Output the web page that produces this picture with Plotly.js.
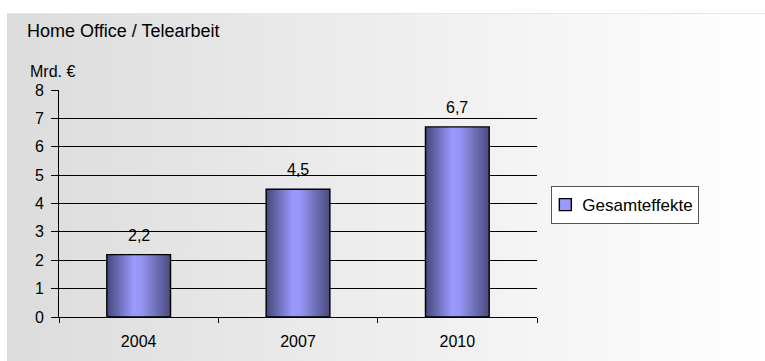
<!DOCTYPE html>
<html>
<head>
<meta charset="utf-8">
<script src="https://cdn.plot.ly/plotly-3.0.1.min.js"></script>
<style>
  html, body { margin: 0; padding: 0; background: #ffffff; }
  #wrap { position: relative; width: 765px; height: 361px; overflow: hidden; }
  #bg { position: absolute; left: 7px; top: 13px; width: 758px; height: 348px;
        background: linear-gradient(to right, #dcdcdc 0%, #ececec 45%, #ffffff 100%);
        border-top: 1px solid #e6e6e6; }
  #chart { position: absolute; left: 0; top: 0; width: 765px; height: 361px; }
</style>
</head>
<body>
<div id="wrap">
  <div id="bg"></div>
  <div id="chart"></div>
</div>
<script>
// ---- data ----
const years = ['2004', '2007', '2010'];
const gesamteffekte = [2.2, 4.5, 6.7];
const seriesName = 'Gesamteffekte';
const chartTitle = 'Home Office / Telearbeit';
const unitLabel = 'Mrd. €';
const yTicks = [0, 1, 2, 3, 4, 5, 6, 7, 8];

const FONT = 'Liberation Sans, Arial, sans-serif';

const trace = {
  type: 'bar',
  x: years,
  y: gesamteffekte,
  name: seriesName,
  marker: { color: '#9999ff', line: { color: '#000000', width: 1.4 } },
  hoverinfo: 'none',
  showlegend: true
};

const annotations = years.map((yr, i) => ({
  x: i, y: gesamteffekte[i], xref: 'x', yref: 'y',
  text: gesamteffekte[i].toFixed(1).replace('.', ','),
  showarrow: false, yanchor: 'bottom', yshift: 9,
  font: { family: FONT, size: 16, color: '#000000' }
}));

annotations.push({
  xref: 'paper', yref: 'paper', x: -0.065, y: 1.08,
  xanchor: 'left', yanchor: 'middle', showarrow: false,
  text: unitLabel, font: { family: FONT, size: 16, color: '#000000' }
});

const layout = {
  width: 765, height: 361,
  margin: { l: 59, r: 228, t: 90, b: 44, pad: 0 },
  paper_bgcolor: 'rgba(0,0,0,0)',
  plot_bgcolor: 'rgba(0,0,0,0)',
  title: {
    text: chartTitle, xref: 'container', yref: 'container',
    x: 27 / 765, y: 1 - 31 / 361, xanchor: 'left', yanchor: 'middle',
    font: { family: FONT, size: 18, color: '#000000' }
  },
  bargap: 0.6,
  xaxis: {
    type: 'category', range: [-0.5, 2.5],
    tickson: 'boundaries', ticks: 'outside', ticklen: 5, tickcolor: '#000000', tickwidth: 1,
    showline: true, linecolor: '#000000', linewidth: 1,
    showgrid: false, zeroline: false, tickangle: 0, ticklabelstandoff: 10,
    tickfont: { family: FONT, size: 16, color: '#000000' },
    fixedrange: true
  },
  yaxis: {
    range: [0, 8], tickvals: yTicks, ticktext: yTicks.map(String),
    ticks: 'outside', ticklen: 7, tickcolor: '#000000', tickwidth: 1,
    showline: true, linecolor: '#000000', linewidth: 1,
    showgrid: true, gridcolor: '#000000', gridwidth: 1,
    zeroline: false, ticklabelstandoff: 4,
    tickfont: { family: FONT, size: 16, color: '#000000' },
    fixedrange: true
  },
  legend: {
    x: 1.03, y: 0.493, xanchor: 'left', yanchor: 'middle',
    bgcolor: '#ffffff', bordercolor: '#555555', borderwidth: 1,
    font: { family: FONT, size: 17, color: '#000000' },
    itemwidth: 30, tracegroupgap: 0
  },
  annotations: annotations,
  showlegend: true
};

Plotly.newPlot('chart', [trace], layout, { staticPlot: true, displayModeBar: false }).then(gd => {
  // apply the cylinder-like horizontal gradient to the bars
  const svg = gd.querySelector('svg.main-svg');
  const ns = 'http://www.w3.org/2000/svg';
  let defs = svg.querySelector('defs');
  if (!defs) { defs = document.createElementNS(ns, 'defs'); svg.insertBefore(defs, svg.firstChild); }
  const grad = document.createElementNS(ns, 'linearGradient');
  grad.setAttribute('id', 'barGrad');
  grad.setAttribute('x1', '0'); grad.setAttribute('y1', '0');
  grad.setAttribute('x2', '1'); grad.setAttribute('y2', '0');
  [['0', '#46467a'], ['0.42', '#9a9aff'], ['0.55', '#9494f2'], ['1', '#4a4a7c']].forEach(([o, c]) => {
    const s = document.createElementNS(ns, 'stop');
    s.setAttribute('offset', o); s.setAttribute('stop-color', c);
    grad.appendChild(s);
  });
  defs.appendChild(grad);
  gd.querySelectorAll('.barlayer .point path').forEach(p => {
    p.style.fill = 'url(#barGrad)';
  });
  // tighten legend: swatch closer to the text, like the original
  const SHIFT = 10;
  gd.querySelectorAll('.legend .legendtext').forEach(t => {
    t.setAttribute('x', (parseFloat(t.getAttribute('x')) || 0) - SHIFT);
  });
  gd.querySelectorAll('.legend .legendpoints').forEach(p => {
    p.setAttribute('transform', 'translate(-7,0)');
  });
  const bg = gd.querySelector('.legend rect.bg');
  if (bg) bg.setAttribute('width', parseFloat(bg.getAttribute('width')) - SHIFT);
});
</script>
</body>
</html>
